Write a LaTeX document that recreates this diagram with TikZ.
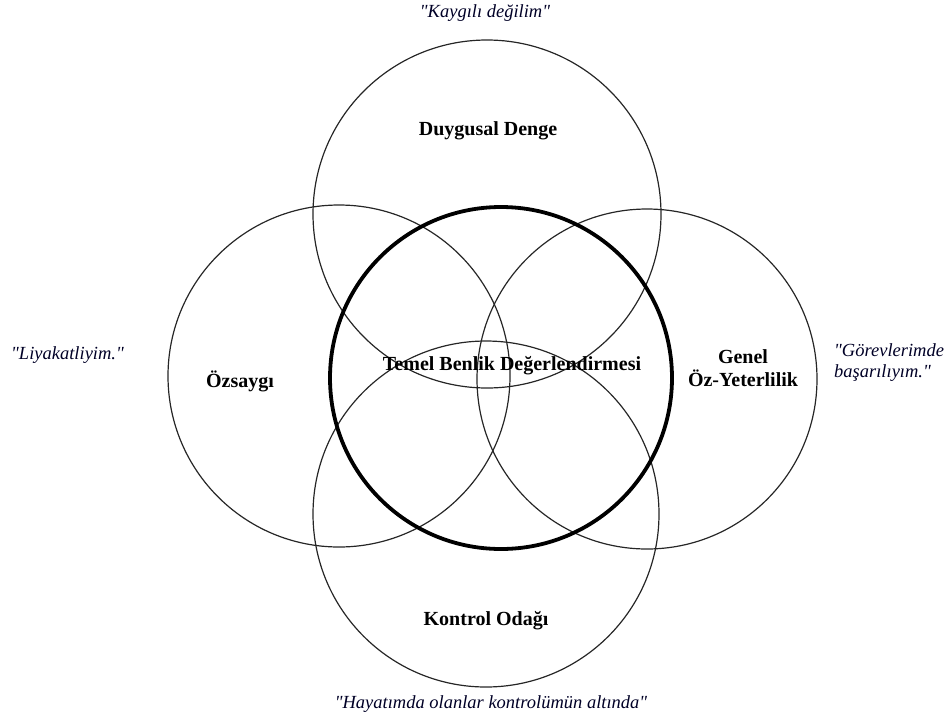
\documentclass[tikz,border=0pt]{standalone}
\usepackage{fontspec}
\setmainfont{Liberation Serif}
\newcommand{\dq}{\textquotedbl}
\begin{document}
\begin{tikzpicture}[x=1pt,y=-1pt,
  facet/.style={draw=black!85,line width=1.2pt},
  core/.style={draw=black,line width=3.8pt},
  lbl/.style={font=\fontsize{20}{23}\selectfont\bfseries,align=center,inner sep=0pt},
  quote/.style={font=\fontsize{18.5}{21}\selectfont\itshape,align=left,inner sep=0pt,text=black!85!blue}]
\useasboundingbox (0,0) rectangle (952,718);
% four trait circles
\draw[facet] (487,214) circle[radius=174];
\draw[facet] (339,376) circle[radius=171];
\draw[facet] (647,379) circle[radius=170];
\draw[facet] (486,514) circle[radius=173];
% core self-evaluation
\draw[core] (501,378) circle[radius=171];
% labels
\node[lbl] (dd) at (488,131) {Duygusal Denge};
\node[lbl] (oz) at (240,381) {Özsaygı};
\node[lbl] (ty) at (512,366) {Temel Benlik Değerlendirmesi};
\node[lbl] (gy) at (743,368) {Genel\\Öz-Yeterlilik};
\node[lbl] (ko) at (486,621) {Kontrol Odağı};
% quotations
\node[quote,anchor=center] (q1) at (485,13) {\dq Kaygılı değilim\dq};
\node[quote,anchor=west] (q2) at (11,355) {\dq Liyakatliyim.\dq};
\node[quote,anchor=west] (q3) at (834,363) {\dq Görevlerimde\\başarılıyım.\dq};
\node[quote,anchor=center] (q4) at (491,704) {\dq Hayatımda olanlar kontrolümün altında\dq};
\end{tikzpicture}
\end{document}
